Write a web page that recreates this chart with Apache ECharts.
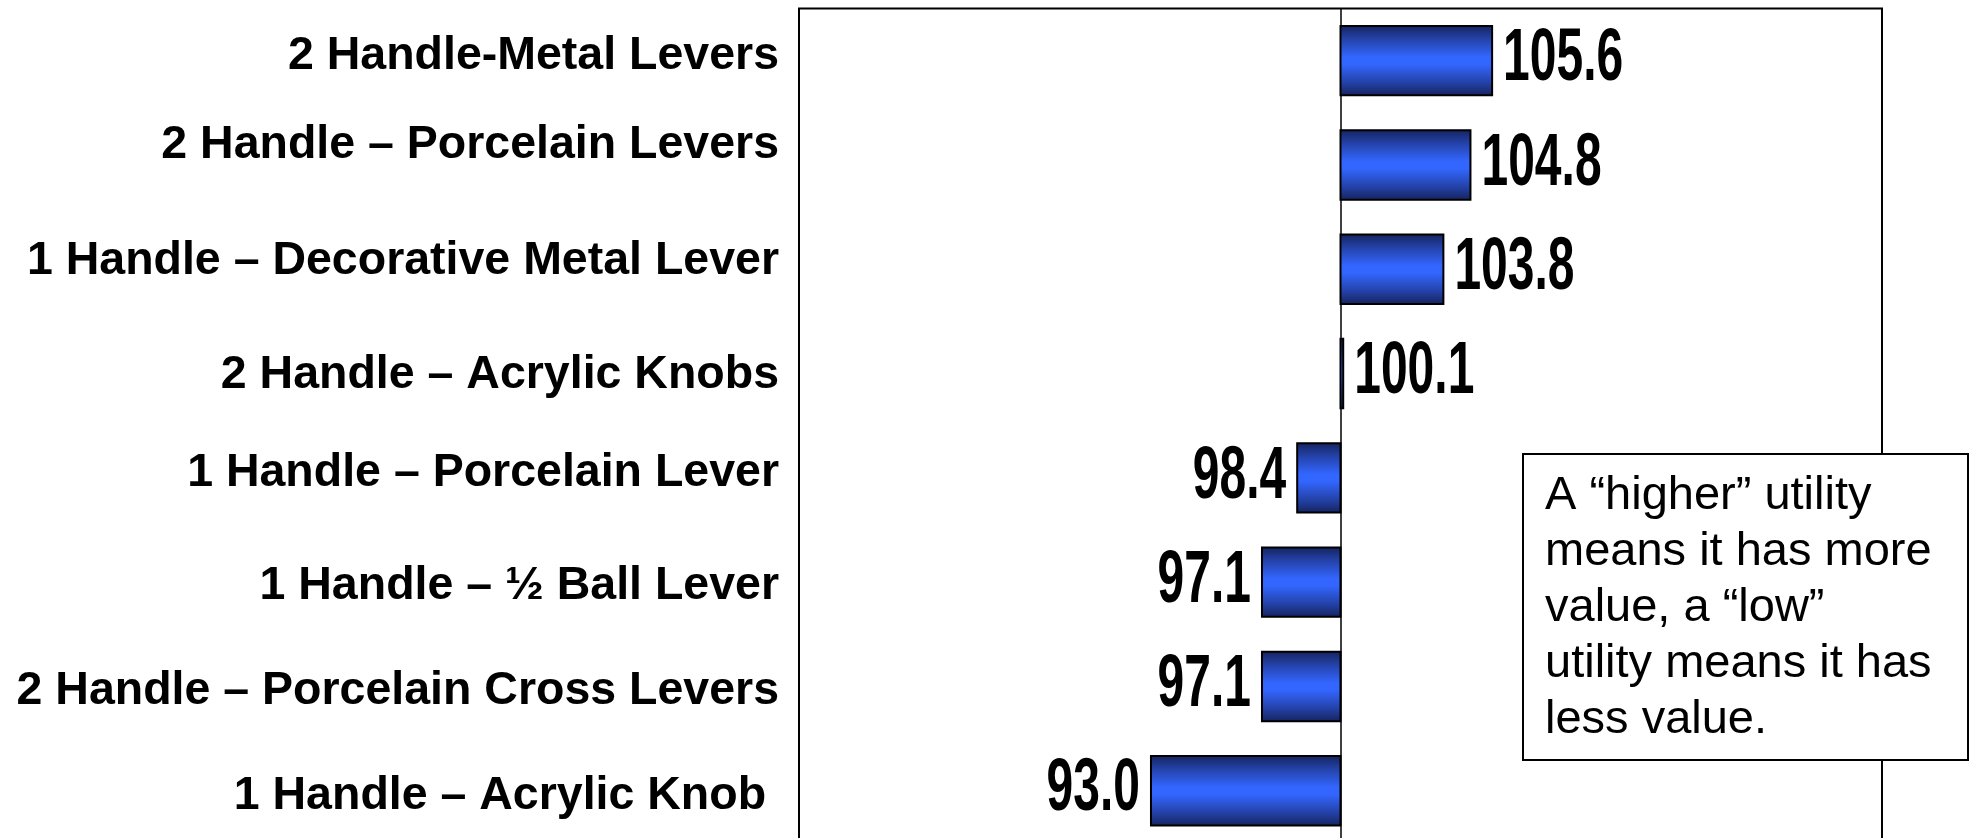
<!DOCTYPE html>
<html>
<head>
<meta charset="utf-8">
<title>Faucet handle utilities</title>
<script src="https://cdn.jsdelivr.net/npm/echarts@6/dist/echarts.min.js"></script>
<style>
  html, body { margin: 0; padding: 0; background: #fff; }
  #chart { width: 1971px; height: 838px; }
</style>
</head>
<body>
<div id="chart"></div>
<script>
// Handle styles, top to bottom
const categories = [
  '2 Handle-Metal Levers',
  '2 Handle \u2013 Porcelain Levers',
  '1 Handle \u2013 Decorative Metal Lever',
  '2 Handle \u2013 Acrylic Knobs',
  '1 Handle \u2013 Porcelain Lever',
  '1 Handle \u2013 \u00BD Ball Lever',
  '2 Handle \u2013 Porcelain Cross Levers',
  '1 Handle \u2013 Acrylic Knob '
];

// Utility index per handle style (100 = average)
const utilities = [105.6, 104.8, 103.8, 100.1, 98.4, 97.1, 97.1, 93.0];

// Reference level the bars grow from
const baseline = 100;

const noteLines = [
  'A \u201Chigher\u201D utility',
  'means it has more',
  'value, a \u201Clow\u201D',
  'utility means it has',
  'less value.'
];

// Small vertical nudges (px, positive = up) for the category captions
const captionNudge = [4, 20, 8, -2, 5, -4, -5, -5];

const chart = echarts.init(document.getElementById('chart'), null, { renderer: 'canvas' });

const barFill = new echarts.graphic.LinearGradient(0, 0, 0, 1, [
  { offset: 0, color: '#15225c' },
  { offset: 0.2, color: '#2443aa' },
  { offset: 0.45, color: '#3366ff' },
  { offset: 0.55, color: '#3366ff' },
  { offset: 0.8, color: '#2443aa' },
  { offset: 1, color: '#15225c' }
]);

const rich = {};
captionNudge.forEach((d, i) => {
  rich['c' + i] = {
    fontFamily: '"Liberation Sans", Arial, sans-serif',
    fontWeight: 'bold',
    fontSize: 46.5,
    color: '#000',
    padding: d >= 0 ? [0, 0, 2 * d, 0] : [-2 * d, 0, 0, 0]
  };
});

const option = {
  animation: false,
  backgroundColor: '#fff',
  grid: {
    left: 799,
    top: 8.5,
    width: 1083,
    height: 834.4,
    show: true,
    borderColor: '#000',
    borderWidth: 2,
    backgroundColor: 'transparent',
    containLabel: false,
    outerBoundsMode: 'none'
  },
  xAxis: {
    type: 'value',
    min: 80,
    max: 120,
    interval: 20,
    axisLine: { show: false },
    axisTick: { show: false },
    axisLabel: { show: false },
    splitLine: { show: true, lineStyle: { color: '#000', width: 1.5 } }
  },
  yAxis: {
    type: 'category',
    inverse: true,
    data: categories,
    axisLine: { show: false },
    axisTick: { show: false },
    splitLine: { show: false },
    axisLabel: {
      margin: 20,
      formatter: (value, index) => '{c' + index + '|' + value + '}',
      rich: rich
    }
  },
  series: [{
    type: 'custom',
    coordinateSystem: 'cartesian2d',
    encode: { x: 0, y: 1 },
    data: utilities.map((v, i) => [v, i]),
    z: 3,
    renderItem: (params, api) => {
      const v = api.value(0);
      const cat = api.value(1);
      const start = api.coord([baseline, cat]);
      const end = api.coord([v, cat]);
      const band = api.size([0, 1])[1];
      const h = band * 0.665;
      const up = v >= baseline;
      const x0 = Math.min(start[0], end[0]);
      const w = Math.abs(end[0] - start[0]);
      return {
        type: 'group',
        children: [
          {
            type: 'rect',
            shape: { x: x0, y: start[1] - h / 2, width: w, height: h },
            style: { fill: barFill, stroke: '#000', lineWidth: 2 }
          },
          {
            type: 'text',
            x: up ? end[0] + 11 : end[0] - 11,
            y: start[1] - 1,
            scaleX: 0.64,
            style: {
              text: v.toFixed(1),
              x: 0,
              y: 0,
              align: up ? 'left' : 'right',
              verticalAlign: 'middle',
              font: 'bold 75px "Liberation Sans", Arial, sans-serif',
              fill: '#000'
            }
          }
        ]
      };
    }
  }],
  graphic: {
    elements: [
      {
        type: 'rect',
        z: 100,
        shape: { x: 1523, y: 454, width: 445, height: 306 },
        style: { fill: '#fff', stroke: '#000', lineWidth: 2 }
      },
      {
        type: 'text',
        z: 101,
        x: 1545,
        y: 468,
        style: {
          text: noteLines.join('\n'),
          font: '47px "Liberation Sans", Arial, sans-serif',
          lineHeight: 56,
          fill: '#000',
          align: 'left',
          verticalAlign: 'top'
        }
      }
    ]
  }
};

chart.setOption(option);
</script>
</body>
</html>
